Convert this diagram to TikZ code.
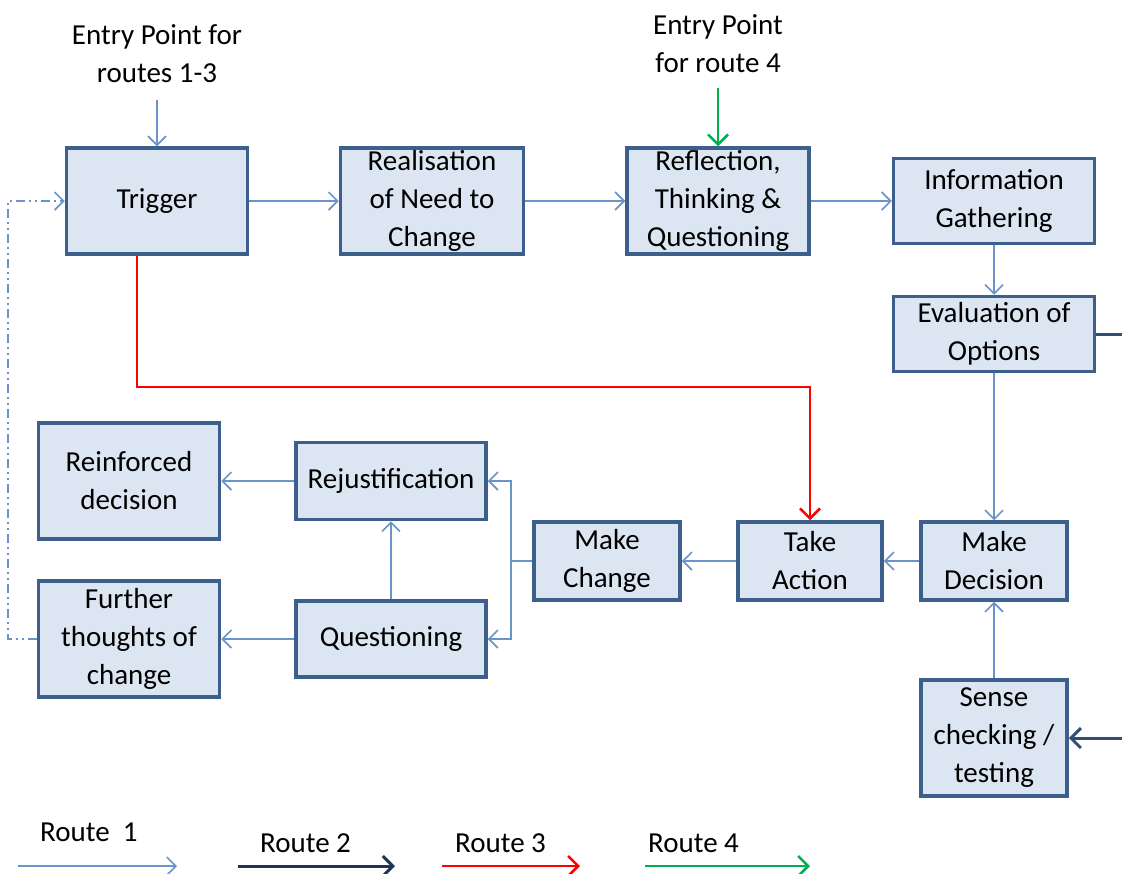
\documentclass[tikz,border=0pt]{standalone}
\usepackage{fontspec}
\setmainfont{Carlito}
\usetikzlibrary{arrows.meta}

\definecolor{boxfill}{HTML}{DCE6F2}
\definecolor{boxline}{HTML}{3D5F8C}
\definecolor{routeone}{HTML}{6A93C9}
\definecolor{routetwo}{HTML}{2F4F78}
\definecolor{routetwolegend}{HTML}{1F3555}
\definecolor{routethree}{HTML}{FF0000}
\definecolor{routefour}{HTML}{00B050}

\tikzset{
  txt/.style={font=\fontsize{29}{38}\selectfont, align=center, inner sep=0pt},
  box/.style={txt, draw=boxline, fill=boxfill, line width=3.5pt},
  rone/.style={draw=routeone, line width=1.6pt,
    -{Straight Barb[length=9pt,width=18pt,line width=1.6pt]}},
  ronel/.style={draw=routeone, line width=1.6pt},
  rtwo/.style={draw=routetwo, line width=3pt,
    -{Straight Barb[length=10pt,width=20pt,line width=3pt]}},
  rtwol/.style={draw=routetwo, line width=3pt},
  rthree/.style={draw=routethree, line width=2.6pt,
    -{Straight Barb[length=10pt,width=20pt,line width=2.6pt]}},
  rfour/.style={draw=routefour, line width=2.6pt,
    -{Straight Barb[length=10pt,width=20pt,line width=2.6pt]}},
  loopback/.style={rone, dash pattern=on 9pt off 4pt on 2pt off 4pt on 2pt off 4pt},
}

\begin{document}
\begin{tikzpicture}[x=1pt,y=-1pt]
\useasboundingbox (0,0) rectangle (1122,873);

% process boxes
\node[box, minimum width=181, minimum height=106] (trigger)   at (157,201) {Trigger};
\node[box, minimum width=183, minimum height=106] (realise)   at (432,201) {Realisation\\of Need to\\Change};
\node[box, minimum width=182, minimum height=106] (reflect)   at (718,201) {Reflection,\\Thinking \&\\Questioning};
\node[box, minimum width=201, minimum height=85]  (info)      at (994,201) {Information\\Gathering};
\node[box, minimum width=201, minimum height=75]  (evaluate)  at (994,334) {Evaluation of\\Options};
\node[box, minimum width=146, minimum height=78]  (decide)    at (994,561) {Make\\Decision};
\node[box, minimum width=144, minimum height=78]  (action)    at (810,561) {Take\\Action};
\node[box, minimum width=146, minimum height=78]  (change)    at (607,561) {Make\\Change};
\node[box, minimum width=190, minimum height=77]  (rejust)    at (391,481) {Rejustification};
\node[box, minimum width=190, minimum height=76]  (question)  at (391,639) {Questioning};
\node[box, minimum width=181, minimum height=116] (reinforce) at (129,481) {Reinforced\\decision};
\node[box, minimum width=181, minimum height=116] (further)   at (129,639) {Further\\thoughts of\\change};
\node[box, minimum width=146, minimum height=116] (sense)     at (994,738) {Sense\\checking /\\testing};

% entry points
\node[txt] (entry13) at (157,54) {Entry Point for\\routes 1-3};
\node[txt] (entry4)  at (718,44) {Entry Point\\for route 4};
\coordinate (entry13end) at (157,100);
\coordinate (entry4end)  at (718,88);
\draw[rone]  (entry13end) -- (trigger.north);
\draw[rfour] (entry4end)  -- (reflect.north);

% route 1 main flow
\draw[rone] (trigger.east)  -- (realise.west);
\draw[rone] (realise.east)  -- (reflect.west);
\draw[rone] (reflect.east)  -- (info.west |- reflect.east);
\draw[rone] (info.south)    -- (evaluate.north);
\draw[rone] (evaluate.south) -- (decide.north);
\draw[rone] (decide.west)   -- (action.east);
\draw[rone] (action.west)   -- (change.west -| change.east);
\coordinate (split) at (511,561);
\draw[ronel] (change.west) -- (split);
\draw[rone] (split) |- (rejust.east);
\draw[rone] (split) |- (question.east);
\draw[rone] (question.north) -- (rejust.south);
\draw[rone] (rejust.west)   -- (reinforce.east |- rejust.west);
\draw[rone] (question.west) -- (further.east |- question.west);
\draw[rone] (sense.north)   -- (decide.south);

% loop back to the trigger
\coordinate (loopx) at (8,0);
\draw[loopback] (further.west) -- (further.west -| loopx) -- (trigger.west -| loopx) -- (trigger.west);

% route 3 shortcut
\coordinate (redturn) at (810,387);
\draw[rthree] ([xshift=-20]trigger.south) |- (redturn) -- (action.north);

% route 2 links at the right edge
\coordinate (rightout) at (1122,334);
\coordinate (rightin)  at (1122,738);
\draw[rtwol] (evaluate.east) -- (rightout);
\draw[rtwo]  (rightin) -- (sense.east);

% legend
\node[txt, anchor=west] (lone)   at (40,832)  {Route~~1};
\node[txt, anchor=west] (ltwo)   at (260,843) {Route 2};
\node[txt, anchor=west] (lthree) at (455,843) {Route 3};
\node[txt, anchor=west] (lfour)  at (648,843) {Route 4};
\coordinate (la1) at (18,866);  \coordinate (lb1) at (177,866);
\coordinate (la2) at (238,866); \coordinate (lb2) at (395,866);
\coordinate (la3) at (442,866); \coordinate (lb3) at (580,866);
\coordinate (la4) at (645,866); \coordinate (lb4) at (810,866);
\draw[rone] (la1) -- (lb1);
\draw[rtwo, draw=routetwolegend] (la2) -- (lb2);
\draw[rthree] (la3) -- (lb3);
\draw[rfour] (la4) -- (lb4);
\end{tikzpicture}
\end{document}
